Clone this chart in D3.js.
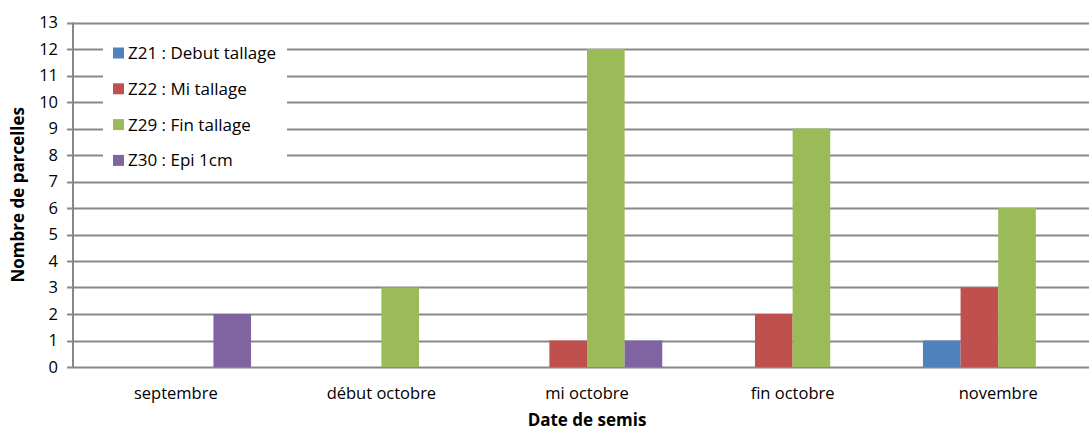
<!DOCTYPE html>
<html>
<head>
<meta charset="utf-8">
<script src="https://cdn.jsdelivr.net/npm/d3@7"></script>
<style>
  body { margin: 0; background: #fff; }
  svg { display: block; font-family: "Open Sans", "Liberation Sans", sans-serif; }
</style>
</head>
<body>
<svg id="chart" width="1089" height="430"></svg>
<script>
// dates de semis (categories) and one array per stade
var categories = ["septembre", "début octobre", "mi octobre", "fin octobre", "novembre"];
var seriesNames = ["Z21 : Debut tallage", "Z22 : Mi tallage", "Z29 : Fin tallage", "Z30 : Epi 1cm"];
var z21 = [0, 0, 0, 0, 1];
var z22 = [0, 0, 1, 2, 3];
var z29 = [0, 3, 12, 9, 6];
var z30 = [2, 0, 1, 0, 0];
var yTicks = d3.range(0, 14);
var colors = ["#4F81BD", "#C0504D", "#9BBB59", "#8064A2"];

var series = [z21, z22, z29, z30];

var svg = d3.select("#chart");
// plot runs a bit past the right edge of the picture (cropped in original)
var plotLeft = 73, plotRight = 1101, plotTop = 22.5, plotBottom = 367;
var fs = 16.5;

var x = d3.scaleBand().domain(categories).range([plotLeft, plotRight]).paddingInner(0.268).paddingOuter(0.134);
var x1 = d3.scaleBand().domain(d3.range(series.length)).range([0, x.bandwidth()]);
var y = d3.scaleLinear().domain([0, 13]).range([plotBottom, plotTop]);

// gridlines
svg.append("g")
  .selectAll("line")
  .data(yTicks)
  .join("line")
    .attr("x1", plotLeft - 6)
    .attr("x2", plotRight)
    .attr("y1", function(d) { return Math.round(y(d)) + 0.5; })
    .attr("y2", function(d) { return Math.round(y(d)) + 0.5; })
    .attr("stroke", "#888")
    .attr("stroke-width", 2);

// y tick labels
svg.append("g")
  .selectAll("text")
  .data(yTicks)
  .join("text")
    .attr("x", plotLeft - 15)
    .attr("y", function(d) { return y(d); })
    .attr("dy", "0.35em")
    .attr("text-anchor", "end")
    .attr("font-size", fs)
    .attr("fill", "#000")
    .text(function(d) { return d; });

// bars
var groups = svg.append("g")
  .selectAll("g")
  .data(series)
  .join("g")
    .attr("fill", function(d, i) { return colors[i]; });

groups.selectAll("rect")
  .data(function(d, i) { return d.map(function(v, j) { return {s: i, c: categories[j], v: v}; }); })
  .join("rect")
    .attr("x", function(d) { return x(d.c) + x1(d.s); })
    .attr("width", x1.bandwidth())
    .attr("y", function(d) { return y(d.v); })
    .attr("height", function(d) { return y(0) - y(d.v); });

// y axis line
svg.append("line")
  .attr("x1", plotLeft).attr("x2", plotLeft)
  .attr("y1", plotTop).attr("y2", plotBottom + 1)
  .attr("stroke", "#888").attr("stroke-width", 2);

// category labels
svg.append("g")
  .selectAll("text")
  .data(categories)
  .join("text")
    .attr("x", function(d) { return x(d) + x.bandwidth() / 2; })
    .attr("y", 399)
    .attr("text-anchor", "middle")
    .attr("font-size", fs)
    .text(function(d) { return d; });

// axis titles
svg.append("text")
  .attr("x", (plotLeft + plotRight) / 2)
  .attr("y", 426)
  .attr("text-anchor", "middle")
  .attr("font-size", 17)
  .attr("font-weight", "bold")
  .text("Date de semis");

svg.append("text")
  .attr("transform", "translate(24," + ((plotTop + plotBottom) / 2) + ") rotate(-90)")
  .attr("text-anchor", "middle")
  .attr("font-size", 17)
  .attr("font-weight", "bold")
  .text("Nombre de parcelles");

// legend
var legend = svg.append("g").attr("transform", "translate(103,31)");
legend.append("rect")
  .attr("width", 184)
  .attr("height", 144)
  .attr("fill", "#fff");

var item = legend.selectAll("g")
  .data(seriesNames)
  .join("g")
    .attr("transform", function(d, i) { return "translate(0," + (22 + i * 35.8) + ")"; });

item.append("rect")
  .attr("x", 10)
  .attr("y", -5.5)
  .attr("width", 11)
  .attr("height", 11)
  .attr("fill", function(d, i) { return colors[i]; });

item.append("text")
  .attr("x", 25)
  .attr("dy", "0.35em")
  .attr("font-size", 17)
  .text(function(d) { return d; });
</script>
</body>
</html>
